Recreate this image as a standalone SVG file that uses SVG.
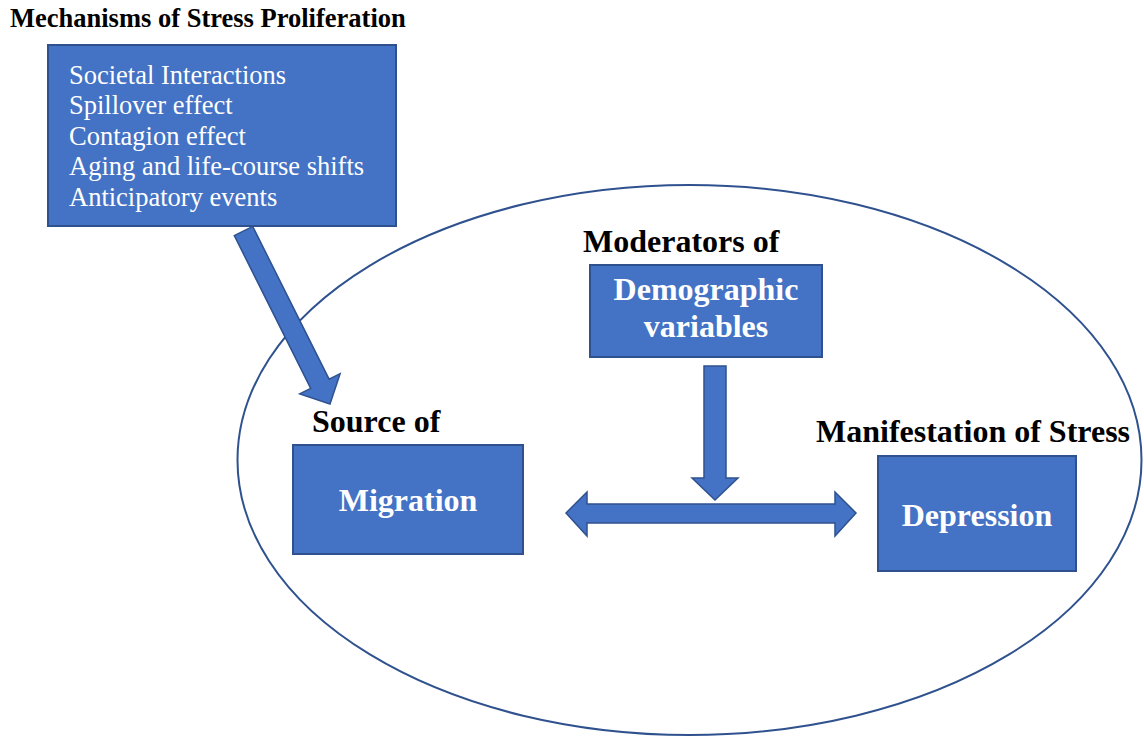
<svg xmlns="http://www.w3.org/2000/svg" width="1144" height="736" viewBox="0 0 1144 736">
<style>
.box{fill:#4472C4;stroke:#2F528F;stroke-width:2}
.arr{fill:#4472C4;stroke:#2F528F;stroke-width:1.5;stroke-linejoin:miter}
.lbl{font-family:"Liberation Serif","Times New Roman",serif;font-weight:bold;fill:#000}
.btx{font-family:"Liberation Serif","Times New Roman",serif;font-weight:bold;fill:#fff;font-size:32px;text-anchor:middle}
.ltx{font-family:"Liberation Serif","Times New Roman",serif;fill:#fff;font-size:26.5px}
</style>
<rect width="1144" height="736" fill="#fff"/>
<ellipse id="context" cx="689.5" cy="460" rx="452" ry="275" fill="none" stroke="#2F528F" stroke-width="2"/>
<text class="lbl" x="10" y="27" font-size="26.5">Mechanisms of Stress Proliferation</text>
<g id="mechanisms">
<rect class="box" x="48" y="45" width="348" height="181"/>
<text class="ltx" x="69" y="83.5">Societal Interactions</text>
<text class="ltx" x="69" y="114">Spillover effect</text>
<text class="ltx" x="69" y="144.5">Contagion effect</text>
<text class="ltx" x="69" y="175">Aging and life-course shifts</text>
<text class="ltx" x="69" y="205.5">Anticipatory events</text>
</g>
<g id="moderators">
<text class="lbl" x="583" y="252" font-size="32">Moderators of</text>
<rect class="box" x="590" y="265" width="232" height="92"/>
<text class="btx" x="706" y="300">Demographic</text>
<text class="btx" x="706" y="337">variables</text>
</g>
<g id="source">
<text class="lbl" x="312" y="432" font-size="32">Source of</text>
<rect class="box" x="293" y="445" width="230" height="109"/>
<text class="btx" x="408" y="511">Migration</text>
</g>
<g id="manifestation">
<text class="lbl" x="816" y="442" font-size="32">Manifestation of Stress</text>
<rect class="box" x="878" y="456" width="198" height="115"/>
<text class="btx" x="977" y="526">Depression</text>
</g>
<g id="connectors">
<polygon class="arr" points="234.3,235.6 252.7,226.4 329.1,379.2 340.1,373.7 330,404 299.7,393.9 310.7,388.4"/>
<polygon class="arr" points="704,366 726,366 726,478 738,478 715,500 692,478 704,478"/>
<polygon class="arr" points="566,513 587,492 587,504 835,504 835,492 856,513 835,536 835,523 587,523 587,536"/>
</g>
</svg>
